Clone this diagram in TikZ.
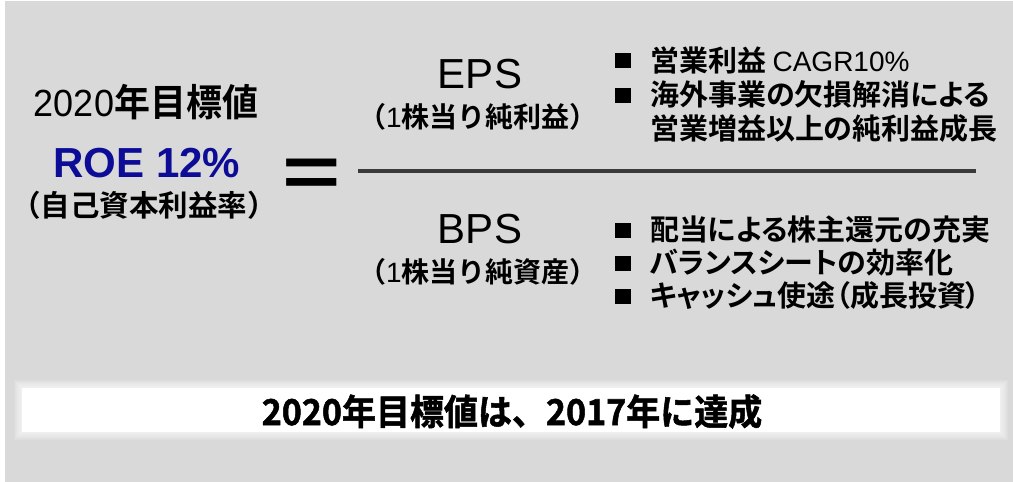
\documentclass[tikz,border=0pt]{standalone}
\usepackage{fontspec}
\setmainfont{Liberation Sans}
\newfontfamily\jp{Noto Sans CJK JP Bold}
\newfontfamily\jpp{Noto Sans CJK JP Bold}[RawFeature=+palt]
\newfontfamily\jpheavy{Noto Sans CJK JP Bold}[FakeBold=1.5]
\usepackage{graphicx}
\definecolor{bgray}{HTML}{D9D9D9}
\definecolor{roeblue}{RGB}{12,12,150}
\definecolor{barcol}{HTML}{3A3A3A}
\newcommand\fsz[1]{\fontsize{#1}{#1}\selectfont}
\begin{document}
\begin{tikzpicture}[x=1pt,y=-1pt,
  txt/.style={inner sep=0pt, outer sep=0pt, text=black},
  bul/.style={fill=black, minimum width=16pt, minimum height=15pt, inner sep=0pt},
  bline/.style={txt, anchor=base west, font=\fsz{29}\jpp}]
\useasboundingbox (0,0) rectangle (1013,482);
\fill[white] (0,0) rectangle (1013,482);
\fill[bgray] (5,1) rectangle (1013,482);

% left block
\node[txt, anchor=base] (goal) at (146,116) {\fsz{36}\scalebox{1}[1.05]{2020{\jp 年目標値}}};
\node[txt, anchor=base, text=roeblue] (roe) at (147,177) {\fsz{42}\bfseries ROE 12\%};
\node[txt, anchor=base] (roesub) at (144,216) {\fsz{29.5}\jp （自己資本利益率）};

% equals sign
\node[txt] (eq) at (312,178) {\fsz{100}\bfseries\scalebox{1}[0.72]{=}};

% fraction bar
\coordinate (lineL) at (358,171);
\coordinate (lineR) at (976,171);
\draw[barcol, line width=4.5pt] (lineL) -- (lineR);

% numerator
\node[txt, anchor=base] (eps) at (480,88) {\fsz{42}EPS};
\node[txt, anchor=base] (epssub) at (478,127) {\fsz{28}\jp （\normalfont 1\jp 株当り純利益）};
\node[bul] (b1) at (623,60) {};
\node[bul] (b2) at (623,95) {};
\node[bline] (t1) at (650,71) {営業利益 {\normalfont\fsz{28}CAGR10\%}};
\node[bline] (t2) at (650,105) {海外事業の欠損解消による};
\node[bline] (t3) at (650,139) {営業増益以上の純利益成長};

% denominator
\node[txt, anchor=base] (bps) at (480,243) {\fsz{42}BPS};
\node[txt, anchor=base] (bpssub) at (478,282) {\fsz{28}\jp （\normalfont 1\jp 株当り純資産）};
\node[bul] (b3) at (623,230) {};
\node[bul] (b4) at (623,263) {};
\node[bul] (b5) at (623,296) {};
\node[bline] (t4) at (650,240) {配当による株主還元の充実};
\node[bline] (t5) at (650,273) {バランスシートの効率化};
\node[bline] (t6) at (650,306) {キャッシュ使途（成長投資）};

% bottom band with soft edge
\foreach \i in {8,7,...,1}
  \fill[white, opacity=0.12] (22-\i,388-\i) rectangle (1000+\i,432+\i);
\fill[white] (22,388) rectangle (1000,432);
\node[txt, anchor=base] (result) at (512,425) {\fsz{34}\jpheavy\scalebox{1}[1.05]{2020年目標値は、2017年に達成}};
\end{tikzpicture}
\end{document}
